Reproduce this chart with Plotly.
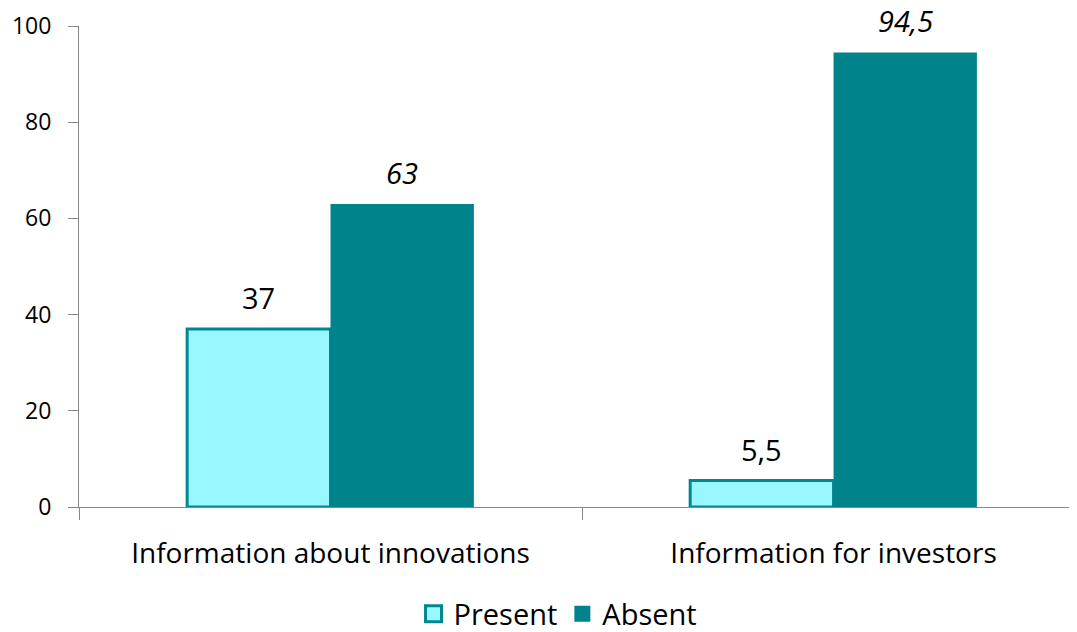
import plotly.graph_objects as go

categories = ["Information about innovations", "Information for investors"]
present = [37, 5.5]
absent = [63, 94.5]
yticks = [0, 20, 40, 60, 80, 100]

FONT = "Open Sans"
BARGAP = 0.43
PRESENT_FILL = "#99F7FF"
PRESENT_EDGE = "#00878F"
ABSENT_FILL = "#00838A"


def fmt(v):
    return ("%g" % v).replace(".", ",")


fig = go.Figure()
fig.add_trace(go.Bar(
    x=categories, y=present, name="Present", showlegend=False,
    marker=dict(color=PRESENT_FILL, line=dict(color=PRESENT_EDGE, width=3)),
))
fig.add_trace(go.Bar(
    x=categories, y=absent, name="Absent", showlegend=False,
    marker=dict(color=ABSENT_FILL, line=dict(width=0)),
))
# legend entries with larger square symbols
fig.add_trace(go.Scatter(
    x=[None], y=[None], mode="markers", name="Present",
    marker=dict(symbol="square", size=16, color=PRESENT_FILL,
                line=dict(color=PRESENT_EDGE, width=3)),
))
fig.add_trace(go.Scatter(
    x=[None], y=[None], mode="markers", name="Absent",
    marker=dict(symbol="square", size=16, color=ABSENT_FILL, line=dict(width=0)),
))

# data labels placed over each bar of the group
half = (1 - BARGAP) / 4
for i, cat in enumerate(categories):
    fig.add_annotation(x=i - half, y=present[i], text=fmt(present[i]),
                       showarrow=False, yanchor="bottom", yshift=10,
                       font=dict(family=FONT, size=29, color="#000000"))
    fig.add_annotation(x=i + half, y=absent[i], text="<i>" + fmt(absent[i]) + "</i>",
                       showarrow=False, yanchor="bottom", yshift=10,
                       font=dict(family=FONT, size=29, color="#000000"))

fig.update_layout(
    width=1069, height=624,
    margin=dict(l=71, r=0, t=18, b=125, autoexpand=False),
    barmode="group", bargap=BARGAP, bargroupgap=0,
    plot_bgcolor="white", paper_bgcolor="white",
    font=dict(family=FONT, size=24, color="#000000"),
    showlegend=True,
    legend=dict(orientation="h", x=0.48, xanchor="center", y=-0.2225, yanchor="middle",
                font=dict(family=FONT, size=29), traceorder="normal",
                itemwidth=30, tracegroupgap=0),
    xaxis=dict(
        type="category", range=[-0.5, 1.484], showline=True, linecolor="#878787", linewidth=1,
        ticks="outside", tickson="boundaries", ticklen=12, tickcolor="#878787",
        tickfont=dict(family=FONT, size=28), showgrid=False, automargin=False,
        ticklabelstandoff=21,
    ),
    yaxis=dict(
        range=[0, 100], tickvals=yticks, showline=True, linecolor="#878787", linewidth=1,
        ticks="outside", ticklen=10, tickcolor="#878787", showgrid=False, zeroline=False,
        tickfont=dict(family=FONT, size=23), ticklabelstandoff=12, automargin=False,
    ),
)

fig.write_html("out.html")
